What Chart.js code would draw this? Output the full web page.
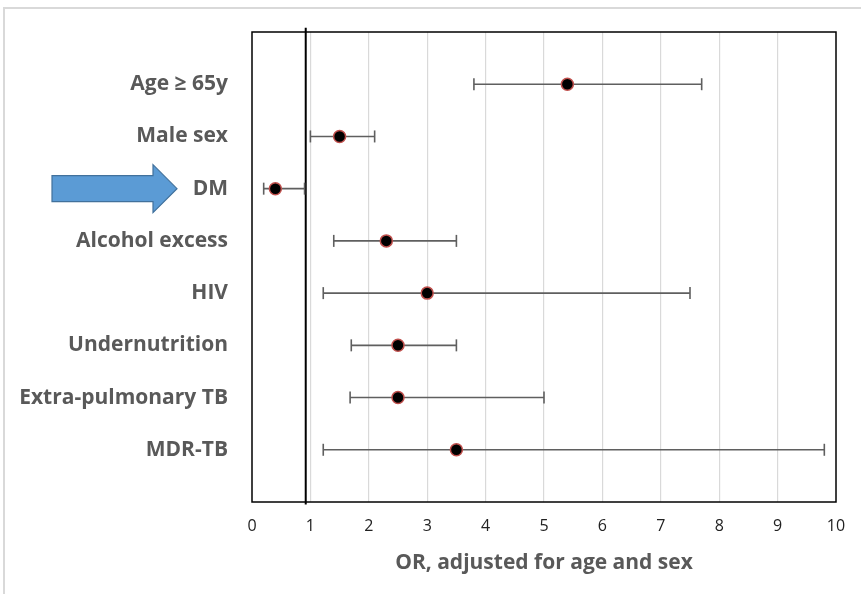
<!DOCTYPE html>
<html>
<head>
<meta charset="utf-8">
<script src="https://cdn.jsdelivr.net/npm/chart.js@4"></script>
<style>
	html, body { margin: 0; padding: 0; background: #fff; }
	#wrap { width: 861px; height: 594px; }
</style>
</head>
<body>
<div id="wrap"><canvas id="orChart" width="861" height="594"></canvas></div>
<script>
// values (top row first)
const categories = ["Age \u2265 65y", "Male sex", "DM", "Alcohol excess", "HIV", "Undernutrition", "Extra-pulmonary TB", "MDR-TB"];
const oddsRatio = [5.4, 1.5, 0.4, 2.3, 3.0, 2.5, 2.5, 3.5];
const ciLow = [3.8, 1.0, 0.2, 1.4, 1.22, 1.7, 1.68, 1.22];
const ciHigh = [7.7, 2.1, 0.9, 3.5, 7.5, 3.5, 5.0, 9.8];
const xTicks = [0, 1, 2, 3, 4, 5, 6, 7, 8, 9, 10];
const refLineAt = 0.92;

const labelFont = "'Open Sans', sans-serif";
const GREY_TEXT = "#595959";

// one dataset per error bar, caps drawn as rotated 'line' points
const ciSets = categories.map((c, i) => ({
	type: "line",
	label: "ci-" + i,
	data: [{ x: ciLow[i], y: i + 1 }, { x: ciHigh[i], y: i + 1 }],
	borderColor: "#5f5f5f",
	borderWidth: 1.6,
	pointStyle: "line",
	rotation: 90,
	pointRadius: 6,
	pointBorderColor: "#5f5f5f",
	pointBorderWidth: 1.6,
	pointHoverRadius: 6,
	fill: false,
	order: 2,
}));

// frame + arrow that sit outside the data
const decorations = {
	id: "decorations",
	beforeDraw(chart) {
		const ctx = chart.ctx;
		ctx.save();
		ctx.strokeStyle = "#d9d9d9";
		ctx.lineWidth = 2;
		ctx.strokeRect(4, 8, 1000, 800);
		ctx.restore();
	},
	afterDraw(chart) {
		const ctx = chart.ctx;
		const area = chart.chartArea;
		ctx.save();
		ctx.strokeStyle = "#000";
		ctx.lineWidth = 1.5;
		ctx.strokeRect(area.left, area.top, area.right - area.left, area.bottom - area.top);

		// the blue arrow pointing at DM
		const yMid = chart.scales.y.getPixelForValue(3);
		ctx.beginPath();
		ctx.moveTo(52, yMid - 13);
		ctx.lineTo(153, yMid - 13);
		ctx.lineTo(153, yMid - 24);
		ctx.lineTo(177, yMid);
		ctx.lineTo(153, yMid + 24);
		ctx.lineTo(153, yMid + 13);
		ctx.lineTo(52, yMid + 13);
		ctx.closePath();
		ctx.fillStyle = "#5b9bd5";
		ctx.fill();
		ctx.strokeStyle = "#41719c";
		ctx.lineWidth = 1.2;
		ctx.stroke();
		ctx.restore();
	},
};

new Chart(document.getElementById("orChart").getContext("2d"), {
	type: "scatter",
	data: {
		datasets: [
			{
				type: "line",
				label: "ref",
				data: [{ x: refLineAt, y: -0.08 }, { x: refLineAt, y: 9.05 }],
				borderColor: "#000",
				borderWidth: 2,
				pointRadius: 0,
				clip: false,
				order: 3,
			},
			...ciSets,
			{
				label: "OR",
				data: oddsRatio.map((v, i) => ({ x: v, y: i + 1 })),
				backgroundColor: "#000",
				borderColor: "#c0504d",
				borderWidth: 1.5,
				pointRadius: 6,
				pointHoverRadius: 6,
				order: 1,
			},
		],
	},
	options: {
		responsive: false,
		animation: false,
		layout: { padding: { left: 8, right: 25, top: 32, bottom: 14 } },
		plugins: {
			legend: { display: false },
			tooltip: { enabled: false },
		},
		scales: {
			x: {
				type: "linear",
				min: 0,
				max: 10,
				afterBuildTicks: (axis) => { axis.ticks = xTicks.map((v) => ({ value: v })); },
				grid: {
					color: (c) => (c.tick.value === 0 || c.tick.value === 10 ? "rgba(0,0,0,0)" : "#d9d9d9"),
					lineWidth: 1.2,
					drawTicks: false,
				},
				border: { display: false },
				ticks: {
					color: "#222",
					font: { family: labelFont, size: 16 },
					padding: 15,
					maxRotation: 0,
				},
				title: {
					display: true,
					text: "OR, adjusted for age and sex",
					color: GREY_TEXT,
					font: { family: labelFont, size: 21, weight: "bold" },
					padding: { top: 0 },
				},
				afterFit: (axis) => {
					axis.height = 78;
					axis.paddingLeft = 0;
					axis.paddingRight = 0;
				},
			},
			y: {
				type: "linear",
				reverse: true,
				min: 0,
				max: 9,
				afterBuildTicks: (axis) => { axis.ticks = categories.map((c, i) => ({ value: i + 1 })); },
				grid: { display: false, drawTicks: false },
				border: { display: false },
				ticks: {
					color: GREY_TEXT,
					font: { family: labelFont, size: 21, weight: "bold" },
					padding: 24,
					callback: (v) => categories[v - 1],
				},
				afterFit: (axis) => {
					axis.width = 244;
					axis.paddingTop = 0;
					axis.paddingBottom = 0;
				},
			},
		},
	},
	plugins: [decorations],
});
</script>
</body>
</html>
